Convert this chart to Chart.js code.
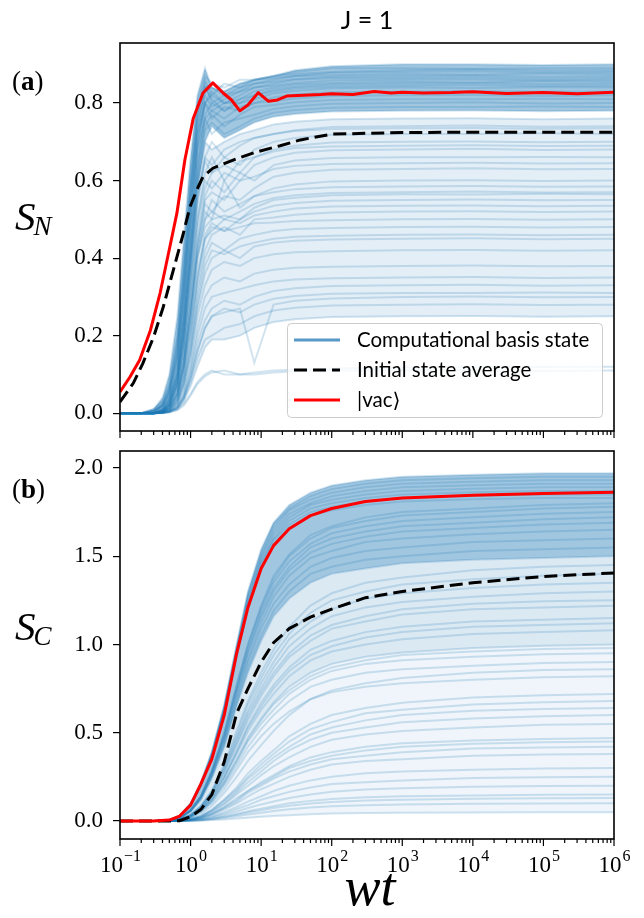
<!DOCTYPE html>
<html>
<head>
<meta charset="utf-8">
<script src="https://cdn.jsdelivr.net/npm/chart.js@4.4.1/dist/chart.umd.min.js"></script>
<style>
  body { margin: 0; background: #fff; width: 644px; height: 918px; overflow: hidden; position: relative; }
  canvas { position: absolute; left: 0; }
  #topChart { top: 0; }
  #botChart { top: 440px; }
</style>
</head>
<body>
<canvas id="topChart" width="644" height="440"></canvas>
<canvas id="botChart" width="644" height="478"></canvas>
<script>
// ---- time grids (wt) ----
const tA = [0.1, 0.2, 0.3, 0.4, 0.5, 0.65, 0.8, 1, 1.25, 1.6, 2, 3, 5, 8, 15, 30, 100, 1e3, 1e4, 1e5, 1e6];
const tB = [0.1, 0.3, 0.5, 0.7, 1, 1.4, 2, 3, 4.5, 6.5, 10, 15, 25, 50, 100, 300, 1e3, 1e4, 1e5, 1e6];

// ---- panel (a): S_N ----
const tVacA = [0.1, 0.139, 0.19, 0.27, 0.37, 0.51, 0.64, 0.83, 1.09, 1.5, 2.07, 2.9, 3.8, 5.0, 6.5, 9.1, 12.6, 17, 23, 40, 70, 100, 200, 400, 700, 1e3, 2e3, 5e3, 1e4, 3e4, 1e5, 3e5, 1e6];
const vacA = [0.055, 0.094, 0.137, 0.214, 0.31, 0.43, 0.516, 0.653, 0.76, 0.826, 0.852, 0.826, 0.808, 0.78, 0.795, 0.827, 0.805, 0.808, 0.818, 0.82, 0.822, 0.824, 0.822, 0.83, 0.826, 0.828, 0.826, 0.827, 0.829, 0.825, 0.827, 0.824, 0.828];
const tAvgA = [0.1, 0.154, 0.21, 0.3, 0.41, 0.57, 0.79, 0.98, 1.22, 1.5, 2.07, 4, 8.6, 18.6, 36, 100, 1e3, 1e4, 1e5, 1e6];
const avgA = [0.029, 0.077, 0.128, 0.197, 0.274, 0.369, 0.464, 0.532, 0.575, 0.61, 0.632, 0.653, 0.674, 0.69, 0.705, 0.72, 0.724, 0.725, 0.725, 0.725];
const basisA = [
  [0,0,0.01,0.04,0.1,0.25,0.45,0.66,0.82,0.89,0.84,0.83,0.85,0.86,0.87,0.885,0.895,0.9,0.9,0.898,0.9],
  [0,0,0.01,0.03,0.08,0.2,0.4,0.62,0.8,0.87,0.85,0.84,0.86,0.86,0.87,0.88,0.89,0.89,0.888,0.89,0.89],
  [0,0,0.005,0.02,0.06,0.17,0.35,0.58,0.77,0.86,0.82,0.85,0.84,0.86,0.87,0.875,0.88,0.885,0.887,0.884,0.885],
  [0,0,0.005,0.02,0.05,0.15,0.32,0.55,0.75,0.84,0.85,0.83,0.85,0.86,0.865,0.87,0.878,0.88,0.882,0.879,0.88],
  [0,0,0.01,0.03,0.07,0.19,0.38,0.6,0.78,0.85,0.8,0.82,0.84,0.85,0.86,0.87,0.872,0.875,0.873,0.876,0.875],
  [0,0,0,0.015,0.04,0.12,0.28,0.5,0.72,0.83,0.84,0.82,0.83,0.85,0.855,0.862,0.868,0.87,0.871,0.868,0.87],
  [0,0,0.005,0.02,0.06,0.16,0.34,0.56,0.74,0.82,0.79,0.81,0.83,0.84,0.85,0.86,0.864,0.865,0.866,0.863,0.865],
  [0,0,0,0.01,0.035,0.1,0.25,0.46,0.68,0.8,0.83,0.8,0.82,0.84,0.845,0.852,0.858,0.86,0.861,0.858,0.86],
  [0,0,0.005,0.025,0.065,0.18,0.36,0.58,0.76,0.84,0.81,0.78,0.81,0.83,0.84,0.848,0.852,0.855,0.853,0.856,0.855],
  [0,0,0,0.012,0.04,0.11,0.26,0.48,0.69,0.8,0.82,0.8,0.81,0.82,0.835,0.842,0.848,0.85,0.851,0.849,0.85],
  [0,0,0.005,0.02,0.05,0.14,0.3,0.52,0.71,0.8,0.78,0.8,0.8,0.82,0.83,0.838,0.843,0.845,0.846,0.844,0.845],
  [0,0,0,0.008,0.03,0.09,0.22,0.42,0.64,0.77,0.8,0.78,0.8,0.81,0.825,0.832,0.838,0.84,0.839,0.841,0.84],
  [0,0,0.005,0.02,0.055,0.15,0.32,0.54,0.72,0.8,0.76,0.79,0.78,0.8,0.815,0.822,0.828,0.83,0.831,0.829,0.83],
  [0,0,0,0.01,0.035,0.1,0.24,0.44,0.64,0.76,0.78,0.76,0.79,0.8,0.805,0.812,0.818,0.82,0.821,0.818,0.82],
  [0,0,0,0.006,0.025,0.08,0.2,0.39,0.6,0.74,0.77,0.74,0.77,0.79,0.795,0.802,0.808,0.81,0.81,0.811,0.81],
  [0,0,0.005,0.015,0.045,0.13,0.29,0.5,0.68,0.76,0.72,0.75,0.76,0.77,0.785,0.792,0.798,0.8,0.802,0.799,0.8],
  [0,0,0,0.008,0.03,0.09,0.22,0.42,0.62,0.73,0.75,0.72,0.74,0.76,0.775,0.782,0.788,0.79,0.79,0.791,0.79],
  [0,0,0,0.005,0.02,0.07,0.18,0.37,0.57,0.7,0.74,0.71,0.73,0.75,0.765,0.772,0.778,0.78,0.781,0.779,0.78],
  [0,0,0,0.01,0.03,0.1,0.23,0.42,0.6,0.7,0.68,0.7,0.72,0.73,0.745,0.752,0.758,0.76,0.761,0.758,0.76],
  [0,0,0,0.005,0.02,0.07,0.17,0.35,0.54,0.66,0.7,0.66,0.69,0.71,0.72,0.73,0.738,0.74,0.742,0.739,0.74],
  [0,0,0,0.006,0.025,0.08,0.2,0.38,0.56,0.65,0.62,0.66,0.64,0.68,0.7,0.71,0.718,0.72,0.72,0.722,0.72],
  [0,0,0,0.004,0.018,0.06,0.15,0.32,0.5,0.62,0.66,0.6,0.65,0.66,0.68,0.69,0.698,0.7,0.701,0.699,0.7],
  [0,0,0,0.005,0.02,0.065,0.16,0.33,0.5,0.6,0.58,0.62,0.6,0.64,0.66,0.672,0.678,0.68,0.682,0.679,0.68],
  [0,0,0,0.004,0.015,0.05,0.13,0.28,0.45,0.56,0.6,0.57,0.62,0.6,0.64,0.652,0.658,0.66,0.66,0.661,0.66],
  [0,0,0,0.003,0.012,0.045,0.12,0.26,0.42,0.54,0.52,0.56,0.55,0.58,0.61,0.62,0.628,0.63,0.632,0.629,0.63],
  [0,0,0,0.004,0.015,0.05,0.13,0.27,0.43,0.52,0.5,0.6,0.53,0.56,0.58,0.59,0.598,0.6,0.601,0.599,0.6],
  [0,0,0,0.003,0.012,0.04,0.11,0.24,0.4,0.5,0.52,0.5,0.52,0.54,0.555,0.562,0.568,0.57,0.572,0.569,0.57],
  [0,0,0,0.004,0.015,0.05,0.12,0.25,0.4,0.48,0.5,0.51,0.5,0.53,0.55,0.556,0.562,0.565,0.564,0.566,0.565],
  [0,0,0,0.003,0.01,0.035,0.1,0.22,0.36,0.46,0.49,0.47,0.5,0.52,0.535,0.542,0.548,0.55,0.551,0.549,0.55],
  [0,0,0,0.002,0.008,0.03,0.08,0.18,0.32,0.42,0.46,0.48,0.46,0.5,0.505,0.512,0.518,0.52,0.521,0.519,0.52],
  [0,0,0,0.003,0.01,0.035,0.09,0.2,0.34,0.45,0.48,0.47,0.48,0.49,0.492,0.496,0.498,0.5,0.501,0.499,0.5],
  [0,0,0,0.002,0.008,0.03,0.08,0.17,0.3,0.4,0.44,0.42,0.45,0.46,0.47,0.475,0.478,0.48,0.481,0.479,0.48],
  [0,0,0,0.002,0.006,0.025,0.07,0.15,0.27,0.36,0.4,0.42,0.4,0.43,0.44,0.445,0.448,0.45,0.451,0.449,0.45],
  [0,0,0,0.002,0.006,0.022,0.06,0.14,0.25,0.33,0.37,0.39,0.38,0.4,0.41,0.415,0.418,0.42,0.421,0.419,0.42],
  [0,0,0,0.001,0.005,0.02,0.05,0.12,0.22,0.3,0.33,0.35,0.34,0.36,0.37,0.375,0.378,0.38,0.381,0.379,0.38],
  [0,0,0,0.001,0.004,0.015,0.04,0.1,0.18,0.24,0.27,0.29,0.28,0.3,0.315,0.322,0.328,0.33,0.331,0.329,0.33],
  [0,0,0,0.001,0.004,0.015,0.04,0.09,0.16,0.22,0.25,0.27,0.26,0.28,0.295,0.302,0.308,0.31,0.31,0.311,0.31],
  [0,0,0,0.001,0.003,0.012,0.035,0.08,0.14,0.19,0.2,0.22,0.23,0.25,0.265,0.272,0.278,0.28,0.281,0.279,0.28],
  [0,0,0,0.001,0.003,0.01,0.03,0.07,0.12,0.17,0.19,0.19,0.2,0.22,0.235,0.242,0.248,0.25,0.251,0.249,0.25],
  [0,0,0,0.001,0.003,0.01,0.025,0.05,0.08,0.1,0.11,0.1,0.1,0.105,0.11,0.112,0.115,0.118,0.12,0.119,0.12],
  [0,0,0,0,0.002,0.008,0.02,0.045,0.075,0.095,0.105,0.11,0.1,0.1,0.105,0.108,0.11,0.11,0.111,0.109,0.11],
  [0,0,0,0.006,0.022,0.075,0.18,0.36,0.55,0.66,0.64,0.68,0.7,0.71,0.72,0.728,0.733,0.735,0.736,0.734,0.735],
  [0,0,0,0.005,0.02,0.06,0.15,0.31,0.48,0.58,0.62,0.64,0.62,0.66,0.675,0.684,0.688,0.69,0.691,0.689,0.69],
  [0,0,0,0.004,0.016,0.052,0.13,0.28,0.44,0.55,0.57,0.55,0.6,0.61,0.63,0.638,0.643,0.645,0.646,0.644,0.645],
  [0,0,0,0.003,0.013,0.045,0.12,0.25,0.41,0.5,0.55,0.52,0.54,0.56,0.57,0.578,0.583,0.585,0.586,0.584,0.585],
  [0,0,0,0.003,0.011,0.038,0.1,0.21,0.35,0.45,0.47,0.5,0.49,0.51,0.52,0.528,0.533,0.535,0.536,0.534,0.535],
  [0,0,0,0.002,0.007,0.027,0.075,0.16,0.28,0.38,0.42,0.41,0.43,0.44,0.45,0.455,0.458,0.46,0.461,0.459,0.46],
  [0,0,0,0.001,0.004,0.017,0.045,0.11,0.2,0.27,0.3,0.31,0.32,0.33,0.34,0.345,0.348,0.35,0.351,0.349,0.35],
  [0,0,0,0.001,0.004,0.014,0.038,0.09,0.16,0.22,0.25,0.26,0.27,0.13,0.28,0.29,0.296,0.3,0.301,0.299,0.3]
];

// ---- panel (b): S_C ----
const vacB = [0, 0, 0.005, 0.028, 0.09, 0.21, 0.35, 0.6, 0.95, 1.21, 1.43, 1.56, 1.655, 1.73, 1.77, 1.81, 1.83, 1.845, 1.855, 1.862];
const avgB = [0, 0, 0, 0.002, 0.025, 0.065, 0.15, 0.335, 0.61, 0.75, 0.9, 1.01, 1.09, 1.155, 1.2, 1.265, 1.3, 1.35, 1.385, 1.405];
const basisB = [
  [0,0,0.006,0.03,0.1,0.22,0.39,0.66,1.0,1.3,1.54,1.69,1.79,1.86,1.9,1.93,1.95,1.962,1.97,1.97],
  [0,0,0.006,0.03,0.1,0.21,0.39,0.65,0.99,1.29,1.52,1.68,1.77,1.84,1.88,1.91,1.93,1.942,1.95,1.95],
  [0,0,0.005,0.028,0.095,0.21,0.38,0.64,0.98,1.27,1.5,1.66,1.76,1.82,1.86,1.89,1.91,1.922,1.93,1.93],
  [0,0,0.005,0.028,0.095,0.21,0.38,0.64,0.97,1.26,1.49,1.64,1.74,1.8,1.84,1.87,1.89,1.902,1.91,1.91],
  [0,0,0.005,0.027,0.09,0.2,0.37,0.63,0.96,1.24,1.47,1.62,1.72,1.79,1.82,1.85,1.87,1.882,1.89,1.89],
  [0,0,0.005,0.026,0.09,0.2,0.37,0.62,0.95,1.23,1.46,1.6,1.7,1.77,1.8,1.83,1.85,1.862,1.87,1.87],
  [0,0,0.005,0.026,0.09,0.2,0.36,0.62,0.94,1.22,1.44,1.59,1.68,1.75,1.78,1.81,1.83,1.842,1.85,1.85],
  [0,0,0.005,0.025,0.09,0.2,0.36,0.61,0.93,1.2,1.43,1.57,1.66,1.73,1.76,1.79,1.81,1.822,1.83,1.83],
  [0,0,0.004,0.018,0.063,0.14,0.29,0.5,0.77,1.0,1.22,1.39,1.51,1.62,1.67,1.72,1.75,1.77,1.79,1.8],
  [0,0,0.004,0.018,0.062,0.14,0.28,0.5,0.77,1.0,1.21,1.37,1.5,1.6,1.66,1.7,1.73,1.75,1.77,1.78],
  [0,0,0.003,0.017,0.06,0.14,0.28,0.49,0.75,0.98,1.19,1.35,1.47,1.57,1.63,1.67,1.7,1.72,1.74,1.75],
  [0,0,0.003,0.017,0.06,0.14,0.275,0.48,0.74,0.96,1.17,1.32,1.44,1.55,1.6,1.64,1.67,1.69,1.71,1.72],
  [0,0,0.003,0.017,0.06,0.135,0.27,0.47,0.73,0.95,1.15,1.3,1.42,1.52,1.57,1.61,1.64,1.66,1.68,1.69],
  [0,0,0.003,0.016,0.058,0.13,0.26,0.46,0.71,0.92,1.12,1.27,1.39,1.49,1.53,1.58,1.6,1.625,1.64,1.65],
  [0,0,0.003,0.016,0.056,0.13,0.26,0.45,0.69,0.9,1.09,1.23,1.34,1.44,1.49,1.53,1.55,1.58,1.59,1.6],
  [0,0,0.003,0.015,0.054,0.12,0.25,0.43,0.67,0.87,1.05,1.19,1.3,1.4,1.44,1.48,1.5,1.53,1.54,1.55],
  [0,0,0.003,0.015,0.052,0.12,0.24,0.42,0.65,0.84,1.02,1.16,1.26,1.35,1.4,1.43,1.46,1.48,1.49,1.5],
  [0,0,0,0.009,0.036,0.087,0.17,0.32,0.51,0.68,0.84,0.97,1.1,1.22,1.29,1.35,1.38,1.42,1.44,1.45],
  [0,0,0,0.008,0.035,0.084,0.17,0.31,0.49,0.66,0.81,0.94,1.06,1.18,1.25,1.3,1.34,1.37,1.39,1.4],
  [0,0,0,0.008,0.034,0.081,0.16,0.3,0.47,0.63,0.78,0.9,1.03,1.13,1.2,1.26,1.29,1.32,1.34,1.35],
  [0,0,0,0.008,0.033,0.078,0.16,0.29,0.46,0.61,0.75,0.87,0.99,1.09,1.16,1.21,1.24,1.27,1.29,1.3],
  [0,0,0,0.007,0.03,0.073,0.15,0.27,0.43,0.57,0.71,0.82,0.93,1.02,1.09,1.13,1.17,1.2,1.21,1.22],
  [0,0,0,0.007,0.029,0.069,0.14,0.25,0.4,0.54,0.67,0.77,0.87,0.97,1.02,1.07,1.1,1.13,1.14,1.15],
  [0,0,0,0.006,0.027,0.065,0.13,0.24,0.38,0.51,0.63,0.72,0.82,0.91,0.96,1.0,1.03,1.06,1.07,1.08],
  [0,0,0,0.006,0.025,0.06,0.12,0.22,0.35,0.47,0.58,0.67,0.76,0.84,0.89,0.93,0.955,0.98,0.993,1.0],
  [0,0,0,0.006,0.024,0.059,0.12,0.22,0.34,0.46,0.57,0.66,0.74,0.82,0.87,0.91,0.94,0.96,0.975,0.98],
  [0,0,0,0.005,0.022,0.054,0.11,0.2,0.31,0.42,0.52,0.6,0.68,0.76,0.8,0.84,0.86,0.88,0.895,0.9],
  [0,0,0,0.005,0.02,0.05,0.1,0.18,0.29,0.39,0.48,0.55,0.62,0.69,0.73,0.76,0.78,0.8,0.815,0.82],
  [0,0,0,0.003,0.011,0.029,0.065,0.12,0.19,0.27,0.34,0.4,0.48,0.55,0.6,0.64,0.67,0.7,0.713,0.72],
  [0,0,0,0.003,0.01,0.027,0.061,0.12,0.18,0.25,0.32,0.38,0.45,0.52,0.56,0.61,0.63,0.66,0.673,0.68],
  [0,0,0,0.002,0.009,0.024,0.054,0.1,0.16,0.22,0.28,0.34,0.4,0.46,0.5,0.53,0.56,0.58,0.594,0.6],
  [0,0,0,0.002,0.008,0.022,0.05,0.094,0.15,0.2,0.26,0.31,0.36,0.42,0.46,0.49,0.51,0.53,0.545,0.55],
  [0,0,0,0.002,0.007,0.019,0.042,0.08,0.13,0.17,0.22,0.26,0.31,0.36,0.39,0.42,0.44,0.456,0.465,0.47],
  [0,0,0,0.002,0.007,0.018,0.04,0.077,0.12,0.17,0.21,0.25,0.3,0.34,0.37,0.4,0.42,0.437,0.446,0.45],
  [0,0,0,0.002,0.006,0.015,0.034,0.065,0.1,0.14,0.18,0.21,0.25,0.29,0.32,0.34,0.35,0.37,0.376,0.38],
  [0,0,0,0.001,0.005,0.012,0.027,0.05,0.08,0.11,0.14,0.17,0.2,0.23,0.25,0.27,0.28,0.29,0.297,0.3],
  [0,0,0,0.001,0.004,0.01,0.022,0.042,0.068,0.09,0.12,0.14,0.165,0.19,0.21,0.22,0.23,0.243,0.248,0.25],
  [0,0,0,0.001,0.003,0.008,0.018,0.034,0.054,0.074,0.094,0.11,0.13,0.15,0.166,0.178,0.186,0.194,0.198,0.2],
  [0,0,0,0,0.002,0.006,0.013,0.025,0.04,0.055,0.07,0.084,0.1,0.114,0.125,0.134,0.14,0.145,0.149,0.15],
  [0,0,0,0,0.002,0.005,0.012,0.022,0.035,0.048,0.061,0.073,0.086,0.099,0.108,0.116,0.121,0.126,0.129,0.13],
  [0,0,0,0,0.0015,0.004,0.009,0.017,0.027,0.037,0.047,0.056,0.066,0.076,0.083,0.089,0.093,0.097,0.099,0.1],
  [0,0,0,0,0.001,0.002,0.005,0.009,0.014,0.019,0.024,0.028,0.033,0.038,0.042,0.045,0.047,0.048,0.049,0.05],
  [0,0,0,0.007,0.031,0.075,0.15,0.28,0.44,0.59,0.73,0.84,0.95,1.05,1.11,1.16,1.2,1.23,1.245,1.25],
  [0,0,0,0.007,0.028,0.067,0.13,0.25,0.39,0.53,0.65,0.75,0.85,0.94,0.99,1.04,1.07,1.1,1.11,1.12],
  [0,0,0,0.005,0.023,0.057,0.11,0.21,0.33,0.45,0.55,0.63,0.72,0.8,0.85,0.89,0.91,0.93,0.945,0.95],
  [0,0,0,0.004,0.015,0.04,0.085,0.16,0.25,0.34,0.43,0.51,0.6,0.69,0.74,0.78,0.81,0.84,0.855,0.86],
  [0,0,0,0.003,0.01,0.026,0.058,0.11,0.17,0.24,0.3,0.36,0.42,0.49,0.53,0.57,0.6,0.625,0.635,0.64],
  [0,0,0,0.002,0.006,0.017,0.038,0.072,0.11,0.16,0.2,0.24,0.28,0.32,0.35,0.37,0.39,0.41,0.417,0.42]
];

// ---- axis ticks ----
const yTicksA = [0, 0.2, 0.4, 0.6, 0.8];
const yTicksB = [0, 0.5, 1.0, 1.5, 2.0];
const xDecades = [-1, 0, 1, 2, 3, 4, 5, 6];

const SERIF = '"Liberation Serif", "DejaVu Serif", serif';
const SANS = 'Lato, "DejaVu Sans", sans-serif';
const LINE = 'rgba(31,119,180,0.2)';

function pts(xs, ys) {
  return xs.map((x, i) => ({ x: x, y: ys[i] }));
}

// blue ensemble + shaded bundles + average + vacuum curves
function makeSets(t, rows, bands, tAvg, avg, tVac, vac) {
  const sets = rows.map(r => ({
    data: pts(t, r), borderColor: LINE, borderWidth: 2, fill: false, order: 2
  }));
  bands.forEach(([hi, lo, alpha]) => {
    sets.push({
      data: pts(t, rows[hi]), borderWidth: 0, borderColor: 'transparent',
      backgroundColor: 'rgba(31,119,180,' + alpha + ')', fill: { target: lo }, order: 3
    });
  });
  sets.push({ data: pts(tAvg, avg), borderColor: '#000', borderWidth: 3, borderDash: [13, 6], fill: false, order: 1 });
  sets.push({ data: pts(tVac, vac), borderColor: '#ff0000', borderWidth: 3, borderJoinStyle: 'round', fill: false, order: 0 });
  return sets;
}

// frame and log ticks on the bottom spine
function drawFrame(chart) {
  const ctx = chart.ctx, a = chart.chartArea, xs = chart.scales.x;
  ctx.save();
  ctx.strokeStyle = '#000';
  ctx.lineWidth = 1.6;
  ctx.strokeRect(a.left, a.top, a.right - a.left, a.bottom - a.top);
  ctx.lineWidth = 1.2;
  xDecades.forEach(e => {
    for (let m = 1; m < 10; m++) {
      const v = m * Math.pow(10, e);
      if (v > xs.max * 1.0001) break;
      const px = xs.getPixelForValue(v);
      ctx.beginPath();
      ctx.moveTo(px, a.bottom);
      ctx.lineTo(px, a.bottom + (m === 1 ? 7 : 4));
      ctx.stroke();
    }
  });
  ctx.restore();
}

function drawYLabel(ctx, sub, x, y) {
  ctx.font = 'italic 41px ' + SERIF;
  ctx.fillText('S', x, y);
  const w = ctx.measureText('S').width;
  ctx.font = 'italic 27px ' + SERIF;
  ctx.fillText(sub, x + w - 2, y + 5);
}

function drawPanelTag(ctx, letter, x, y) {
  ctx.font = '27px ' + SERIF;
  ctx.fillText('(', x, y);
  let cx = x + ctx.measureText('(').width;
  ctx.font = 'bold 27px ' + SERIF;
  ctx.fillText(letter, cx, y);
  cx += ctx.measureText(letter).width;
  ctx.font = '27px ' + SERIF;
  ctx.fillText(')', cx, y);
}

const decorA = {
  id: 'decorA',
  afterDraw(chart) {
    drawFrame(chart);
    const ctx = chart.ctx, a = chart.chartArea;
    ctx.save();
    ctx.fillStyle = '#000';
    ctx.textBaseline = 'alphabetic';
    ctx.textAlign = 'center';
    ctx.font = '25px ' + SANS;
    ctx.fillText('J = 1', (a.left + a.right) / 2, 29);
    ctx.textAlign = 'left';
    drawPanelTag(ctx, 'a', 12, 90);
    drawYLabel(ctx, 'N', 15, 230);

    // legend box
    ctx.fillStyle = 'rgba(255,255,255,0.8)';
    ctx.strokeStyle = '#cccccc';
    ctx.lineWidth = 1;
    ctx.beginPath();
    ctx.roundRect(287.5, 323.5, 315, 94, 4);
    ctx.fill();
    ctx.stroke();
    const rows = [
      { label: 'Computational basis state', color: 'rgba(31,119,180,0.75)', dash: [] },
      { label: 'Initial state average', color: '#000', dash: [13, 6] },
      { label: '|vac\u27E9', color: '#ff0000', dash: [] }
    ];
    rows.forEach((r, i) => {
      const y = 340 + i * 30;
      ctx.strokeStyle = r.color;
      ctx.lineWidth = 3;
      ctx.setLineDash(r.dash);
      ctx.beginPath();
      ctx.moveTo(294, y);
      ctx.lineTo(340, y);
      ctx.stroke();
      ctx.setLineDash([]);
      ctx.fillStyle = '#000';
      ctx.font = '20.5px ' + SANS;
      ctx.textBaseline = 'middle';
      ctx.fillText(r.label, 357, y);
    });
    ctx.restore();
  }
};

const decorB = {
  id: 'decorB',
  afterDraw(chart) {
    drawFrame(chart);
    const ctx = chart.ctx, a = chart.chartArea, xs = chart.scales.x;
    ctx.save();
    ctx.fillStyle = '#000';
    ctx.textBaseline = 'alphabetic';
    ctx.textAlign = 'left';
    drawPanelTag(ctx, 'b', 12, 58);
    drawYLabel(ctx, 'C', 15, 200);

    // decade labels 10^n
    xDecades.forEach(e => {
      const px = xs.getPixelForValue(Math.pow(10, e));
      const sup = e < 0 ? '\u2212' + (-e) : String(e);
      ctx.font = '23px ' + SERIF;
      const w1 = ctx.measureText('10').width;
      ctx.font = '16px ' + SERIF;
      const w2 = ctx.measureText(sup).width;
      const x0 = px - (w1 + w2) / 2;
      ctx.font = '23px ' + SERIF;
      ctx.fillText('10', x0, a.bottom + 33);
      ctx.font = '16px ' + SERIF;
      ctx.fillText(sup, x0 + w1 + 1, a.bottom + 22);
    });

    ctx.textAlign = 'center';
    ctx.font = 'italic 54px ' + SERIF;
    ctx.fillText('wt', (a.left + a.right) / 2 + 3, a.bottom + 66);
    ctx.restore();
  }
};

function makeOptions(yMin, yMax, yTicks, pad, xHeight) {
  return {
    responsive: false,
    animation: false,
    devicePixelRatio: 1,
    events: [],
    layout: { padding: pad },
    elements: { point: { radius: 0 }, line: { tension: 0 } },
    plugins: { legend: { display: false }, tooltip: { enabled: false } },
    scales: {
      x: {
        type: 'logarithmic', min: 0.1, max: 1e6,
        afterFit(s) { s.height = xHeight; s.paddingLeft = 0; s.paddingRight = 0; },
        ticks: { display: false },
        grid: { display: false },
        border: { display: false }
      },
      y: {
        min: yMin, max: yMax,
        afterFit(s) { s.width = 120; s.paddingTop = 0; s.paddingBottom = 0; },
        afterBuildTicks(s) { s.ticks = yTicks.map(v => ({ value: v })); },
        ticks: {
          color: '#000', padding: 10,
          font: { family: SERIF, size: 23 },
          callback: v => Number(v).toFixed(1)
        },
        grid: { drawOnChartArea: false, tickLength: 7, color: '#000', lineWidth: 1.2 },
        border: { display: false }
      }
    }
  };
}

new Chart(document.getElementById('topChart'), {
  type: 'line',
  data: { datasets: makeSets(tA, basisA, [[0, 17, 0.42], [18, 38, 0.12]], tAvgA, avgA, tVacA, vacA) },
  options: makeOptions(-0.046, 0.955, yTicksA, { top: 43, right: 30, left: 0, bottom: 0 }, 9),
  plugins: [decorA]
});

new Chart(document.getElementById('botChart'), {
  type: 'line',
  data: { datasets: makeSets(tB, basisB, [[0, 16, 0.42], [16, 24, 0.16], [24, 41, 0.07]], tB, avgB, tB, vacB) },
  options: makeOptions(-0.102, 2.096, yTicksB, { top: 11, right: 30, left: 0, bottom: 0 }, 79),
  plugins: [decorB]
});
</script>
</body>
</html>
